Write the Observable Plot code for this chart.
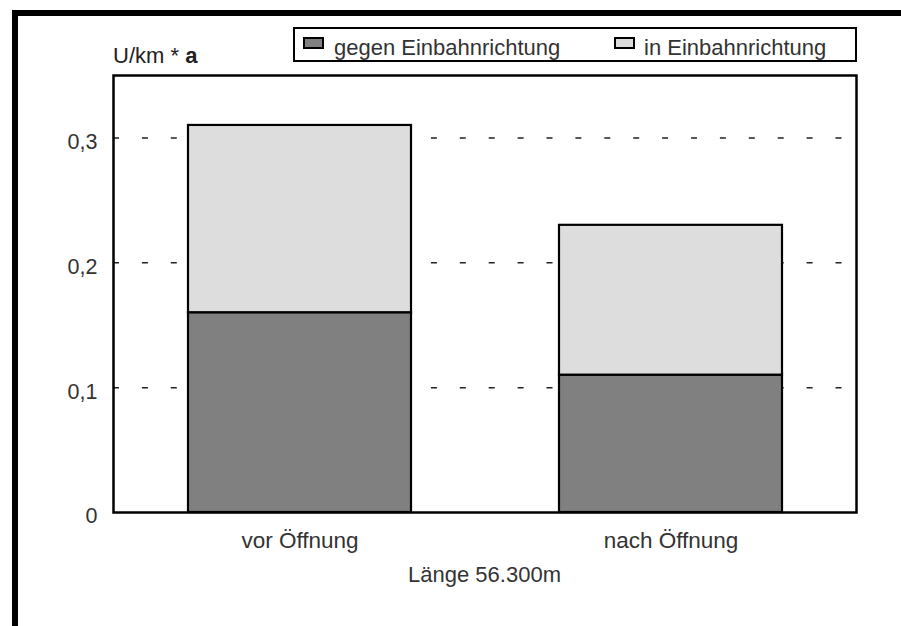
<!DOCTYPE html>
<html>
<head>
<meta charset="utf-8">
<script src="https://cdn.jsdelivr.net/npm/d3@7"></script>
<script src="https://cdn.jsdelivr.net/npm/@observablehq/plot@0.6"></script>
<style>
  html, body { margin: 0; padding: 0; background: #fff; }
  #wrap { position: relative; width: 901px; height: 626px; overflow: hidden; font-family: "Liberation Sans", Arial, sans-serif; }
  #wrap svg { position: absolute; left: 0; top: 0; }
  .borderTop { position: absolute; left: 12px; top: 10px; width: 889px; height: 6px; background: #000; }
  .borderLeft { position: absolute; left: 12px; top: 10px; width: 6px; height: 616px; background: #000; }
  .ylabel { position: absolute; left: 113px; top: 43px; font-size: 22px; color: #222; white-space: nowrap; }
  .xlabel { position: absolute; left: 113px; width: 743px; top: 562px; text-align: center; font-size: 22px; color: #333; white-space: nowrap; }
  .legend { position: absolute; left: 293px; top: 27px; width: 560px; height: 31px; border: 2px solid #000; box-sizing: content-box; }
  .legend .sw { position: absolute; top: 8px; width: 17px; height: 8px; border: 2.5px solid #000; }
  .legend .tx { position: absolute; top: 6px; font-size: 22px; color: #333; white-space: nowrap; }
</style>
</head>
<body>
<div id="wrap"></div>
<script>
const categories = ["vor Öffnung", "nach Öffnung"];
const series = ["gegen Einbahnrichtung", "in Einbahnrichtung"];
const gegenValues = [0.16, 0.11];
const inValues = [0.15, 0.12];
const yTicks = [0, 0.1, 0.2, 0.3];
const colors = ["#808080", "#dddddd"];
const yTitle = "U/km * ";
const yTitleBold = "a";
const xTitle = "Länge 56.300m";

const rows = [];
categories.forEach((c, i) => {
  rows.push({cat: c, series: series[0], value: gegenValues[i]});
  rows.push({cat: c, series: series[1], value: inValues[i]});
});

const fmt = d => d === 0 ? "0" : d.toFixed(1).replace(".", ",");

const chart = Plot.plot({
  width: 901,
  height: 626,
  marginLeft: 113,
  marginRight: 45,
  marginTop: 75,
  marginBottom: 114,
  style: {fontFamily: "'Liberation Sans', Arial, sans-serif", fontSize: "22px", color: "#333", background: "transparent"},
  x: {domain: categories, paddingInner: 0.4, paddingOuter: 0.2, label: null},
  y: {domain: [0, 0.35], label: null},
  color: {domain: series, range: colors},
  marks: [
    Plot.ruleY(yTicks.filter(d => d > 0), {stroke: "#222", strokeWidth: 1.5, strokeDasharray: "6,22.9"}),
    Plot.barY(rows, {x: "cat", y: "value", fill: "series", stroke: "#000", strokeWidth: 2.2}),
    Plot.axisY(yTicks, {tickSize: 0, tickPadding: 16, tickFormat: fmt, fontSize: 21.5, dy: 4, label: null}),
    Plot.axisX({tickSize: 0, tickPadding: 20, fontSize: 22.5, label: null}),
    Plot.frame({stroke: "#000", strokeWidth: 2.5})
  ]
});

const wrap = document.getElementById("wrap");
wrap.appendChild(chart);

wrap.insertAdjacentHTML("beforeend", `
  <div class="borderTop"></div>
  <div class="borderLeft"></div>
  <div class="ylabel">${yTitle}<b>${yTitleBold}</b></div>
  <div class="xlabel">${xTitle}</div>
  <div class="legend">
    <div class="sw" style="left:8px;background:${colors[0]}"></div><span class="tx" style="left:39px">${series[0]}</span>
    <div class="sw" style="left:319px;background:${colors[1]}"></div><span class="tx" style="left:349px">${series[1]}</span>
  </div>
`);
</script>
</body>
</html>
